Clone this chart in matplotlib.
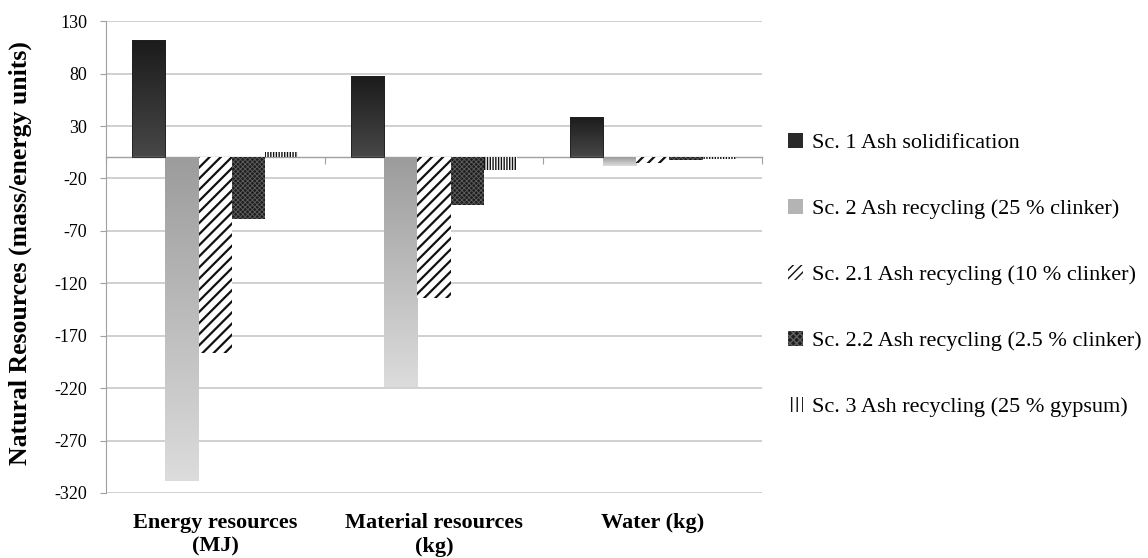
import numpy as np
import matplotlib
matplotlib.use("Agg")
import matplotlib.pyplot as plt
from matplotlib.patches import Patch
from matplotlib.colors import LinearSegmentedColormap

plt.rcParams['font.family'] = ['Liberation Serif', 'DejaVu Serif']
plt.rcParams['axes.unicode_minus'] = False

categories = ["Energy resources\n(MJ)", "Material resources\n(kg)", "Water (kg)"]
series_names = [
    "Sc. 1 Ash solidification",
    "Sc. 2 Ash recycling (25 % clinker)",
    "Sc. 2.1 Ash recycling (10 % clinker)",
    "Sc. 2.2 Ash recycling (2.5 % clinker)",
    "Sc. 3 Ash recycling (25 % gypsum)",
]
sc1 = [112, 77.5, 38.5]
sc2 = [-309, -218.5, -8]
sc21 = [-186, -134, -5]
sc22 = [-58.5, -45, -2.5]
sc3 = [5, -12, -1]
yticks = [130, 80, 30, -20, -70, -120, -170, -220, -270, -320]

fig = plt.figure(figsize=(11.48, 5.58), dpi=100)
ax = fig.add_axes([0.0923, 0.1165, 0.5715, 0.8455])

x = np.arange(len(categories))
w = 0.152
offsets = (np.arange(5) - 2) * w

grid_c = "#c8c8c8"
ax.set_ylim(-320, 130)
ax.set_xlim(-0.5, len(categories) - 0.5)
ax.set_yticks(yticks)
ax.yaxis.grid(True, color=grid_c, linewidth=1.2)
ax.set_axisbelow(True)

def gradient_fill(bars, top_color, bottom_color, z=2):
    cmap = LinearSegmentedColormap.from_list("g", [top_color, bottom_color])
    grad = np.linspace(0, 1, 256).reshape(-1, 1)
    for b in bars:
        x0, y0 = b.get_x(), b.get_y()
        bw, bh = b.get_width(), b.get_height()
        lo, hi = min(y0, y0 + bh), max(y0, y0 + bh)
        im = ax.imshow(grad, cmap=cmap, aspect="auto", extent=(x0, x0 + bw, lo, hi),
                       origin="upper", zorder=z, interpolation="bilinear")
        im.set_clip_path(b)

# Sc. 1 - dark gradient
b1 = ax.bar(x + offsets[0], sc1, w, color="none", edgecolor="#202020", linewidth=0.6, zorder=3)
gradient_fill(b1, "#1b1b1b", "#474747")
# Sc. 2 - light gradient
b2 = ax.bar(x + offsets[1], sc2, w, color="none", edgecolor="none", zorder=3)
gradient_fill(b2, "#9c9c9c", "#dcdcdc")
# Sc. 2.1 - diagonal stripes
with plt.rc_context({'hatch.linewidth': 1.6}):
    ax.bar(x + offsets[2], sc21, w, color="white", edgecolor="#111111", hatch="///",
           linewidth=0, zorder=3)
# Sc. 2.2 - dark fine mesh
with plt.rc_context({'hatch.linewidth': 0.6}):
    ax.bar(x + offsets[3], sc22, w, color="#1e1e1e", edgecolor="#5e5e5e", hatch="xxxxxxx",
           linewidth=0, zorder=3)
# Sc. 3 - vertical lines
with plt.rc_context({'hatch.linewidth': 1.0}):
    ax.bar(x + offsets[4], sc3, w, color="white", edgecolor="#111111", hatch="||||||",
           linewidth=0, zorder=3)

ax.set_xlim(-0.5, len(categories) - 0.5)
ax.set_ylim(-320, 130)

# Axis styling
for s in ["top", "right"]:
    ax.spines[s].set_visible(False)
ax.spines["left"].set_color("#a0a0a0")
ax.spines["bottom"].set_position(("data", 0))
ax.spines["bottom"].set_color("#a0a0a0")
ax.spines["bottom"].set_linewidth(1.0)
ax.set_xticks(np.arange(len(categories) + 1) - 0.5)
ax.set_xticklabels([])
ax.tick_params(axis="x", direction="out", length=5, color="#a0a0a0")
ax.tick_params(axis="y", direction="out", length=4.5, color="#a0a0a0", labelsize=13, pad=9)

for i, c in enumerate(categories):
    ax.text(i, -0.042, c, transform=ax.get_xaxis_transform(), ha="center", va="top",
            fontsize=16, fontweight="bold", linespacing=1.25)

fig.text(20 / 1148, 0.546, "Natural Resources (mass/energy units)", rotation=90,
         ha="center", va="center", fontsize=18.5, fontweight="bold")

# Legend
handles = []
with plt.rc_context({'hatch.linewidth': 1.4}):
    handles.append(Patch(facecolor="#2a2a2a", edgecolor="none"))
    handles.append(Patch(facecolor="#b4b4b4", edgecolor="none"))
    handles.append(Patch(facecolor="white", edgecolor="#111111", hatch="////", linewidth=0))
with plt.rc_context({'hatch.linewidth': 0.6}):
    handles.append(Patch(facecolor="#1e1e1e", edgecolor="#5e5e5e", hatch="xxxxx", linewidth=0))
with plt.rc_context({'hatch.linewidth': 1.0}):
    handles.append(Patch(facecolor="white", edgecolor="#111111", hatch="|||", linewidth=0))

fig.legend(handles, series_names, loc="center left", bbox_to_anchor=(0.686, 0.507),
           frameon=False, fontsize=16, handlelength=0.68, handleheight=0.68,
           handletextpad=0.42, labelspacing=2.05, borderaxespad=0, borderpad=0)

fig.savefig("out.png", dpi=100)
